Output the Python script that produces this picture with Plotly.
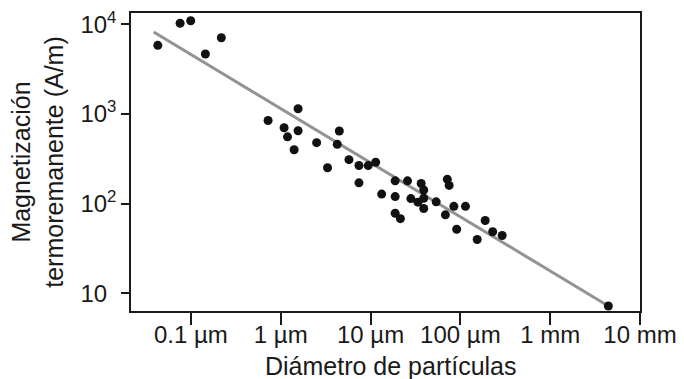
import plotly.graph_objects as go

# Particle diameter (micrometres) and thermoremanent magnetization (A/m)
diam_um = [0.0428, 0.0758, 0.0995, 0.145, 0.218,
           0.723, 1.09, 1.56, 1.56, 1.19, 1.41, 2.51,
           4.49, 4.26, 3.32, 5.75, 7.43, 9.42, 11.4, 7.43,
           13.3, 18.8, 25.8, 18.8, 36.6, 39.1, 28.1, 33.7,
           39.1, 39.1, 53.8, 71.6, 75.0, 84.7, 114, 68.1,
           18.8, 21.5, 91.0, 189, 229, 292, 154, 4440]
trm = [5830, 10260, 10970, 4670, 7090,
       847, 703, 1143, 651, 557, 400, 479,
       646, 459, 252, 310, 267, 266, 290, 171,
       128, 180, 180, 120, 168, 142, 114, 104,
       115, 88.4, 105, 187, 160, 93.5, 93.5, 75.2,
       78.2, 68.1, 51.9, 65.0, 48.7, 44.2, 39.9, 7.24]

fit_x = [0.0385, 4440]
fit_y = [8200, 7.24]

x_tickvals = [0.1, 1, 10, 100, 1000, 10000]
x_ticktext = ["0.1 µm", "1 µm", "10 µm", "100 µm", "1 mm", "10 mm"]
y_tickvals = [10, 100, 1000, 10000]
y_ticktext = ["10<sup>\u2007</sup>", "10<sup>2</sup>", "10<sup>3</sup>", "10<sup>4</sup>"]

x_title = "Diámetro de partículas"
y_title = "Magnetización<br>termoremanente (A/m)"

FONT = "Liberation Sans, Arial, sans-serif"
INK = "#1a1a1a"

fig = go.Figure()
fig.add_trace(go.Scatter(x=fit_x, y=fit_y, mode="lines",
                         line=dict(color="#939393", width=3),
                         hoverinfo="skip", showlegend=False))
fig.add_trace(go.Scatter(x=diam_um, y=trm, mode="markers",
                         marker=dict(color="#111111", size=9),
                         showlegend=False))

fig.update_layout(
    width=684, height=379,
    margin=dict(l=131, r=44, t=13, b=68),
    paper_bgcolor="white", plot_bgcolor="white",
    font=dict(family=FONT, size=23, color=INK),
)
fig.update_xaxes(
    type="log", range=[-1.667, 4.0], automargin=False,
    tickvals=x_tickvals, ticktext=x_ticktext,
    ticks="outside", ticklen=12, tickwidth=1.5, tickcolor=INK,
    ticklabelstandoff=-11,
    showline=True, linecolor=INK, linewidth=1.5, mirror=True,
    showgrid=False, zeroline=False,
    tickfont=dict(size=24),
)
fig.update_yaxes(
    type="log", range=[0.804, 4.126], automargin=False,
    tickvals=y_tickvals, ticktext=y_ticktext,
    ticks="outside", ticklen=8, tickwidth=1.5, tickcolor=INK,
    showline=True, linecolor=INK, linewidth=1.5, mirror=True,
    showgrid=False, zeroline=False,
    tickfont=dict(size=24),
    title=dict(text=y_title, font=dict(size=25), standoff=10),
)
fig.add_annotation(text=x_title, xref="paper", yref="paper",
                   x=0.511, y=-0.132, xanchor="center", yanchor="top",
                   showarrow=False, font=dict(size=25, color=INK))

fig.write_html("out.html")
